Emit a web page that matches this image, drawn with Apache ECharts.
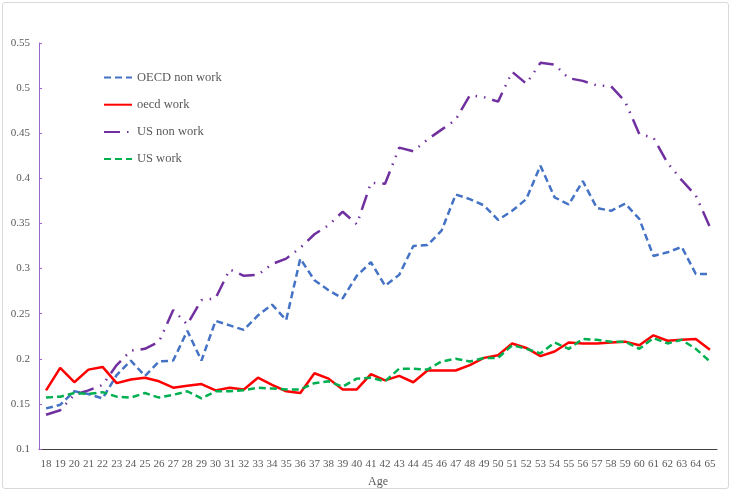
<!DOCTYPE html>
<html>
<head>
<meta charset="utf-8">
<script src="https://cdn.jsdelivr.net/npm/echarts@6/dist/echarts.min.js"></script>
<style>
html,body{margin:0;padding:0;background:#fff;}
#frame{position:absolute;left:2px;top:2px;width:727px;height:487px;border:1px solid #d9d9d9;border-radius:3px;box-sizing:border-box;}
#chart{position:absolute;left:0;top:0;width:733px;height:493px;}
</style>
</head>
<body>
<div id="frame"></div>
<div id="chart"></div>
<script>
const ages = [18,19,20,21,22,23,24,25,26,27,28,29,30,31,32,33,34,35,36,37,38,39,40,41,42,43,44,45,46,47,48,49,50,51,52,53,54,55,56,57,58,59,60,61,62,63,64,65].map(String);

const oecdNonWork = [0.145,0.149,0.164,0.161,0.156,0.182,0.198,0.181,0.197,0.198,0.231,0.198,0.242,0.237,0.232,0.248,0.260,0.243,0.311,0.287,0.276,0.267,0.292,0.307,0.281,0.293,0.325,0.326,0.342,0.382,0.377,0.370,0.354,0.364,0.377,0.414,0.379,0.371,0.397,0.367,0.364,0.372,0.355,0.314,0.318,0.324,0.294,0.294];

const oecdWork = [0.165,0.190,0.174,0.188,0.191,0.173,0.177,0.179,0.175,0.168,0.170,0.172,0.165,0.168,0.166,0.179,0.171,0.164,0.162,0.184,0.178,0.166,0.166,0.183,0.176,0.181,0.174,0.187,0.187,0.187,0.193,0.201,0.204,0.217,0.212,0.203,0.208,0.218,0.217,0.217,0.218,0.219,0.215,0.226,0.220,0.221,0.222,0.210];

const usNonWork = [0.138,0.143,0.160,0.165,0.171,0.193,0.209,0.211,0.219,0.254,0.238,0.265,0.267,0.299,0.292,0.293,0.305,0.311,0.323,0.338,0.348,0.363,0.349,0.395,0.394,0.434,0.430,0.443,0.454,0.465,0.492,0.490,0.485,0.518,0.505,0.528,0.526,0.511,0.508,0.503,0.502,0.485,0.449,0.445,0.417,0.398,0.381,0.346];

const usWork = [0.157,0.158,0.162,0.161,0.163,0.158,0.157,0.162,0.157,0.160,0.164,0.156,0.164,0.164,0.165,0.168,0.167,0.166,0.166,0.173,0.175,0.169,0.178,0.179,0.175,0.189,0.189,0.188,0.197,0.200,0.197,0.201,0.201,0.215,0.211,0.206,0.218,0.211,0.222,0.221,0.219,0.219,0.211,0.223,0.217,0.221,0.211,0.197];

const yTicks = {min: 0.1, max: 0.55, interval: 0.05};

const serif = '"Liberation Serif", "Times New Roman", serif';
const txt = '#595959';

const chart = echarts.init(document.getElementById('chart'), null, {renderer: 'canvas'});
chart.setOption({
  animation: false,
  backgroundColor: 'transparent',
  grid: {left: 39, right: 16, top: 43, bottom: 42, containLabel: false},
  legend: {
    orient: 'vertical',
    left: 103,
    top: 71,
    padding: 0,
    itemWidth: 28,
    itemHeight: 14,
    itemGap: 14.2,
    itemStyle: {opacity: 0},
    textStyle: {fontFamily: serif, fontSize: 12.5, color: txt},
    data: ['OECD non work', 'oecd work', 'US non work', 'US work']
  },
  xAxis: {
    type: 'category',
    data: ages,
    boundaryGap: true,
    name: 'Age',
    nameLocation: 'middle',
    nameGap: 27,
    nameTextStyle: {fontFamily: serif, fontSize: 12, color: txt},
    axisLine: {lineStyle: {color: '#404040', width: 1}},
    axisTick: {inside: true, length: 4, lineStyle: {color: '#404040'}},
    axisLabel: {interval: 0, fontFamily: serif, fontSize: 11, color: txt, margin: 10},
    splitLine: {show: false}
  },
  yAxis: {
    type: 'value',
    min: yTicks.min,
    max: yTicks.max,
    interval: yTicks.interval,
    axisLine: {show: true, lineStyle: {color: '#9966cc', width: 1}},
    axisTick: {show: true, inside: true, length: 3, lineStyle: {color: '#9966cc'}},
    axisLabel: {fontFamily: serif, fontSize: 11, color: txt, margin: 9},
    splitLine: {show: false}
  },
  series: [
    {
      name: 'OECD non work', type: 'line', data: oecdNonWork, symbol: 'none',
      itemStyle: {color: '#4472c4'},
      lineStyle: {color: '#4472c4', width: 2.5, type: [7, 4]}
    },
    {
      name: 'oecd work', type: 'line', data: oecdWork, symbol: 'none',
      itemStyle: {color: '#ff0000'},
      lineStyle: {color: '#ff0000', width: 2.5, type: 'solid'}
    },
    {
      name: 'US non work', type: 'line', data: usNonWork, symbol: 'none',
      itemStyle: {color: '#7030a0'},
      lineStyle: {color: '#7030a0', width: 2.5, type: [16, 7, 1.5, 7, 1.5, 7]}
    },
    {
      name: 'US work', type: 'line', data: usWork, symbol: 'none',
      itemStyle: {color: '#00b050'},
      lineStyle: {color: '#00b050', width: 2.5, type: [7, 4]}
    }
  ]
});
</script>
</body>
</html>
